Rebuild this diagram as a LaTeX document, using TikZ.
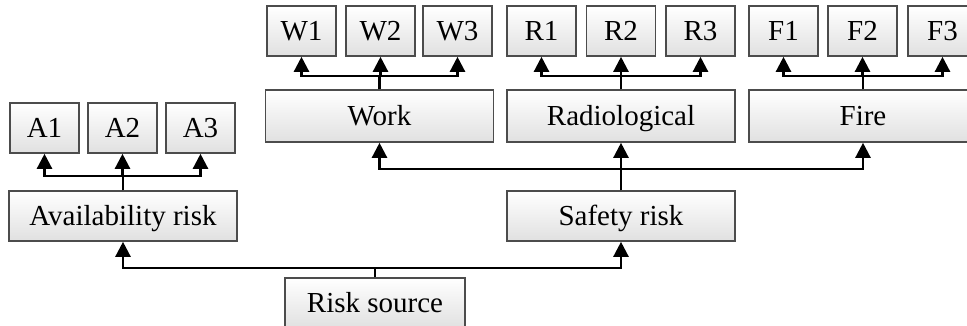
\documentclass[tikz,border=0pt]{standalone}
\usepackage{fontspec}
\setmainfont{Liberation Serif}
\usetikzlibrary{arrows.meta}

\begin{document}
\begin{tikzpicture}[x=1pt,y=-1pt,
  box/.style={draw=black!70, line width=1.6pt, top color=white, bottom color=black!12,
    inner sep=0pt, minimum height=50pt, text height=20pt, text depth=2pt,
    font=\fontsize{29}{31}\selectfont},
  leaf/.style={box, minimum width=69pt},
  group/.style={box, minimum width=228pt},
  conn/.style={line width=2.4pt, -{Triangle[width=15pt,length=15pt]}}
]
\path[use as bounding box, clip] (0,0) rectangle (967,325);

% leaf boxes, top row
\node[leaf] (W1) at (301.5,31) {W1};
\node[leaf] (W2) at (380.5,31) {W2};
\node[leaf] (W3) at (457.5,31) {W3};
\node[leaf] (R1) at (541.5,31) {R1};
\node[leaf] (R2) at (621,31) {R2};
\node[leaf] (R3) at (700.5,31) {R3};
\node[leaf] (F1) at (783.5,31) {F1};
\node[leaf] (F2) at (862.5,31) {F2};
\node[leaf] (F3) at (942.5,31) {F3};

% safety categories
\node[group, minimum height=52pt] (work)  at (379.5,116) {Work};
\node[group, minimum height=52pt] (radio) at (621,116)   {Radiological};
\node[group, minimum height=52pt] (fire)  at (863,116)   {Fire};

% availability leaves
\node[leaf] (A1) at (44.5,128)  {A1};
\node[leaf] (A2) at (122.5,128) {A2};
\node[leaf] (A3) at (200.5,128) {A3};

% risk classes
\node[group] (avail)  at (123,216) {Availability risk};
\node[group] (safety) at (621,216) {Safety risk};

% root
\node[box, minimum width=180pt] (src) at (375,303) {Risk source};

% connectors
\foreach \t in {W1,W2,W3} \draw[conn] (work.north) -- ++(0,-13) -| (\t.south);
\foreach \t in {R1,R2,R3} \draw[conn] (radio.north) -- ++(0,-13) -| (\t.south);
\foreach \t in {F1,F2,F3} \draw[conn] (fire.north) -- ++(0,-13) -| (\t.south);
\foreach \t in {A1,A2,A3} \draw[conn] (avail.north) -- ++(0,-14) -| (\t.south);
\foreach \t in {work,radio,fire} \draw[conn] (safety.north) -- ++(0,-21) -| (\t.south);
\foreach \t in {avail,safety} \draw[conn] (src.north) -- ++(0,-9) -| (\t.south);
\end{tikzpicture}
\end{document}
